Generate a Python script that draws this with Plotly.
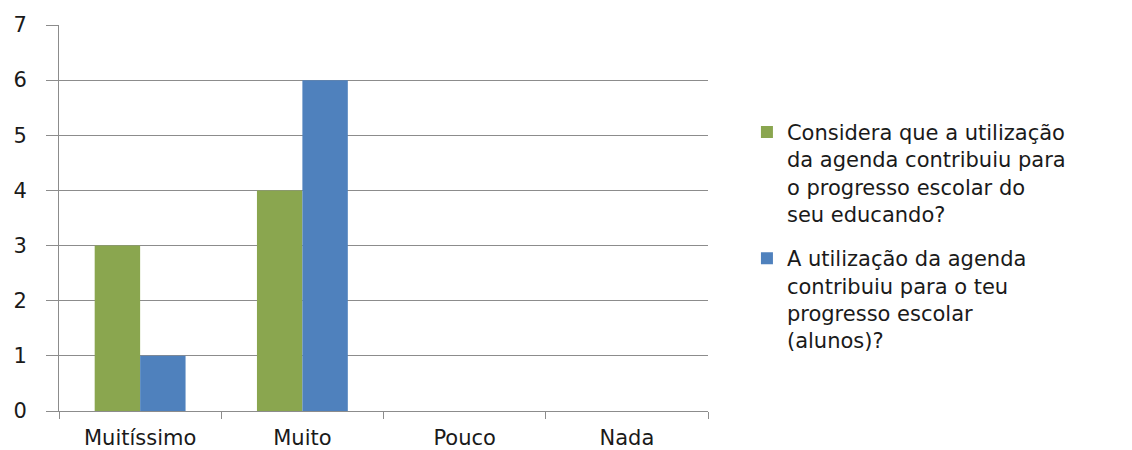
import plotly.graph_objects as go

# Categories and series values
categories = ["Muitíssimo", "Muito", "Pouco", "Nada"]
encarregados = [3, 4, 0, 0]
alunos = [1, 6, 0, 0]

nome_encarregados = "Considera que a utilização<br>da agenda contribuiu para<br>o progresso escolar do<br>seu educando?"
nome_alunos = "A utilização da agenda<br>contribuiu para o teu<br>progresso escolar<br>(alunos)?"

FONT = "DejaVu Sans"
GRID = "#8c8c8c"

fig = go.Figure()
fig.add_trace(go.Bar(x=categories, y=encarregados, name=nome_encarregados,
                     legendgroup="a", marker=dict(color="#8aa64f", line=dict(width=0))))
fig.add_trace(go.Bar(x=categories, y=alunos, name=nome_alunos,
                     legendgroup="b", marker=dict(color="#4f81bd", line=dict(width=0))))

fig.update_layout(
    width=1132, height=450,
    margin=dict(l=59, r=424, t=25, b=39),
    paper_bgcolor="white", plot_bgcolor="white",
    font=dict(family=FONT, size=21, color="#1a1a1a"),
    barmode="group", bargap=0.44, bargroupgap=0,
    showlegend=True,
    legend=dict(x=1.06, xanchor="left", y=0.775, yanchor="top",
                valign="top", tracegroupgap=14,
                font=dict(family=FONT, size=21, color="#1a1a1a")),
)
fig.update_xaxes(
    type="category", tickson="boundaries", ticks="outside", ticklen=7,
    tickcolor=GRID, showline=True, linecolor=GRID, linewidth=1,
    showgrid=False, ticklabelstandoff=8, automargin=False,
)
fig.update_yaxes(
    range=[0, 7], dtick=1, ticks="outside", ticklen=12, tickcolor=GRID,
    showline=True, linecolor=GRID, linewidth=1,
    showgrid=True, gridcolor=GRID, gridwidth=1,
    zeroline=False, ticklabelstandoff=15, automargin=False,
)

# drop the page's default body margin so the figure sits at the window corner
fig.write_html("out.html", config={"displayModeBar": False},
               post_script="document.body.style.margin='0';")
